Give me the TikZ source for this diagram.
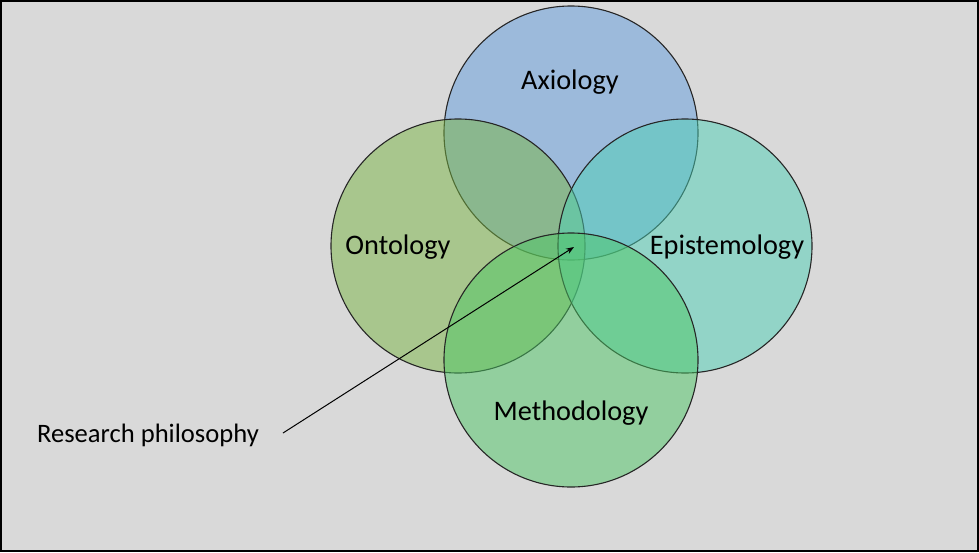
\documentclass[tikz,border=0pt]{standalone}
\usepackage{fontspec}
\setmainfont{Carlito}
\usetikzlibrary{arrows.meta}
\definecolor{bgc}{RGB}{217,217,217}
\definecolor{cA}{RGB}{97,157,221}
\definecolor{cO}{RGB}{121,181,67}
\definecolor{cE}{RGB}{77,209,183}
\definecolor{cM}{RGB}{77,199,101}
\begin{document}
\begin{tikzpicture}[x=1pt,y=-1pt,
  circ/.style={circle, minimum size=254pt, inner sep=0pt, draw=black!85, line width=1.1pt, fill opacity=0.5},
  lab/.style={font=\fontsize{28.3}{33}\selectfont, text=black, inner sep=0pt}]
\useasboundingbox (0,0) rectangle (979,552);
\fill[bgc] (0,0) rectangle (979,552);
\draw[line width=2pt] (1,1) rectangle (978,551);
\node[circ, fill=cA] (ax) at (571,133) {};
\node[circ, fill=cO] (on) at (458,246) {};
\node[circ, fill=cE] (ep) at (685,246) {};
\node[circ, fill=cM] (me) at (571,360) {};
\node[lab] (axl) at (570,82) {Axiology};
\node[lab] (onl) at (398,247) {Ontology};
\node[lab] (epl) at (727,247) {Epistemology};
\node[lab] (mel) at (571,413) {Methodology};
\node[lab, font=\fontsize{26.6}{31}\selectfont] (rp) at (148,435) {Research philosophy};
\coordinate (rpend) at (283,433);
\coordinate (tip) at (574,247);
\draw[line width=1pt, -{Stealth[length=8pt,width=6pt]}] (rpend) -- (tip);
\end{tikzpicture}
\end{document}
